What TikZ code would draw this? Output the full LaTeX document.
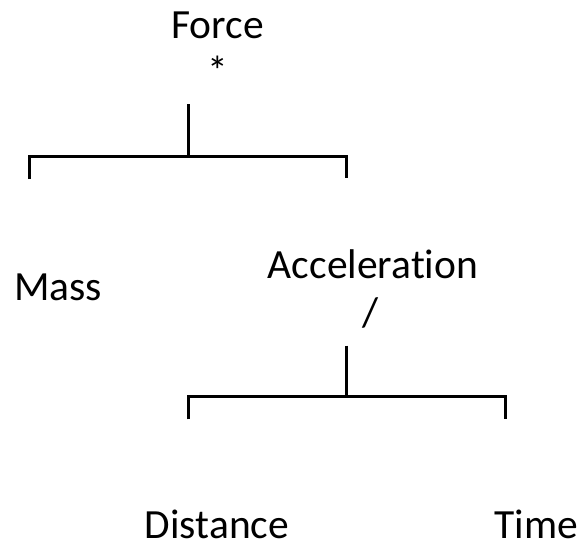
\documentclass[tikz,border=0pt]{standalone}
\usepackage{fontspec}
\setmainfont[Ligatures=NoCommon]{Carlito}
\begin{document}
\begin{tikzpicture}[x=1pt,y=-1pt,
  lbl/.style={anchor=base,inner sep=0pt,font=\fontsize{41.5}{48}\selectfont},
  bracket/.style={draw=black,line width=3pt,line cap=butt,line join=miter}]
\useasboundingbox (0,0) rectangle (579,546);
% labels
\node[lbl] (force) at (217.7,38) {Force};
\node[lbl] (mul) at (217.5,85) {*};
\node[lbl] (mass) at (58,300) {Mass};
\node[lbl] (acc) at (373,278) {Acceleration};
\node[lbl] (div) at (371,326) {/};
\node[lbl] (dist) at (217,538) {Distance};
\node[lbl] (time) at (536.5,538) {Time};
% first bracket
\coordinate (t1) at (188,104);
\coordinate (j1) at (188,156);
\coordinate (l1) at (29.3,156);
\coordinate (r1) at (346.7,156);
\coordinate (le1) at (29.3,179);
\coordinate (re1) at (346.7,178);
\draw[bracket] (t1) -- (j1);
\draw[bracket] (le1) -- (l1) -- (r1) -- (re1);
% second bracket
\coordinate (t2) at (346.7,345.7);
\coordinate (j2) at (346.7,396);
\coordinate (l2) at (188.3,396);
\coordinate (r2) at (505,396);
\coordinate (le2) at (188.3,419.3);
\coordinate (re2) at (505,419.3);
\draw[bracket] (t2) -- (j2);
\draw[bracket] (le2) -- (l2) -- (r2) -- (re2);
\end{tikzpicture}
\end{document}
